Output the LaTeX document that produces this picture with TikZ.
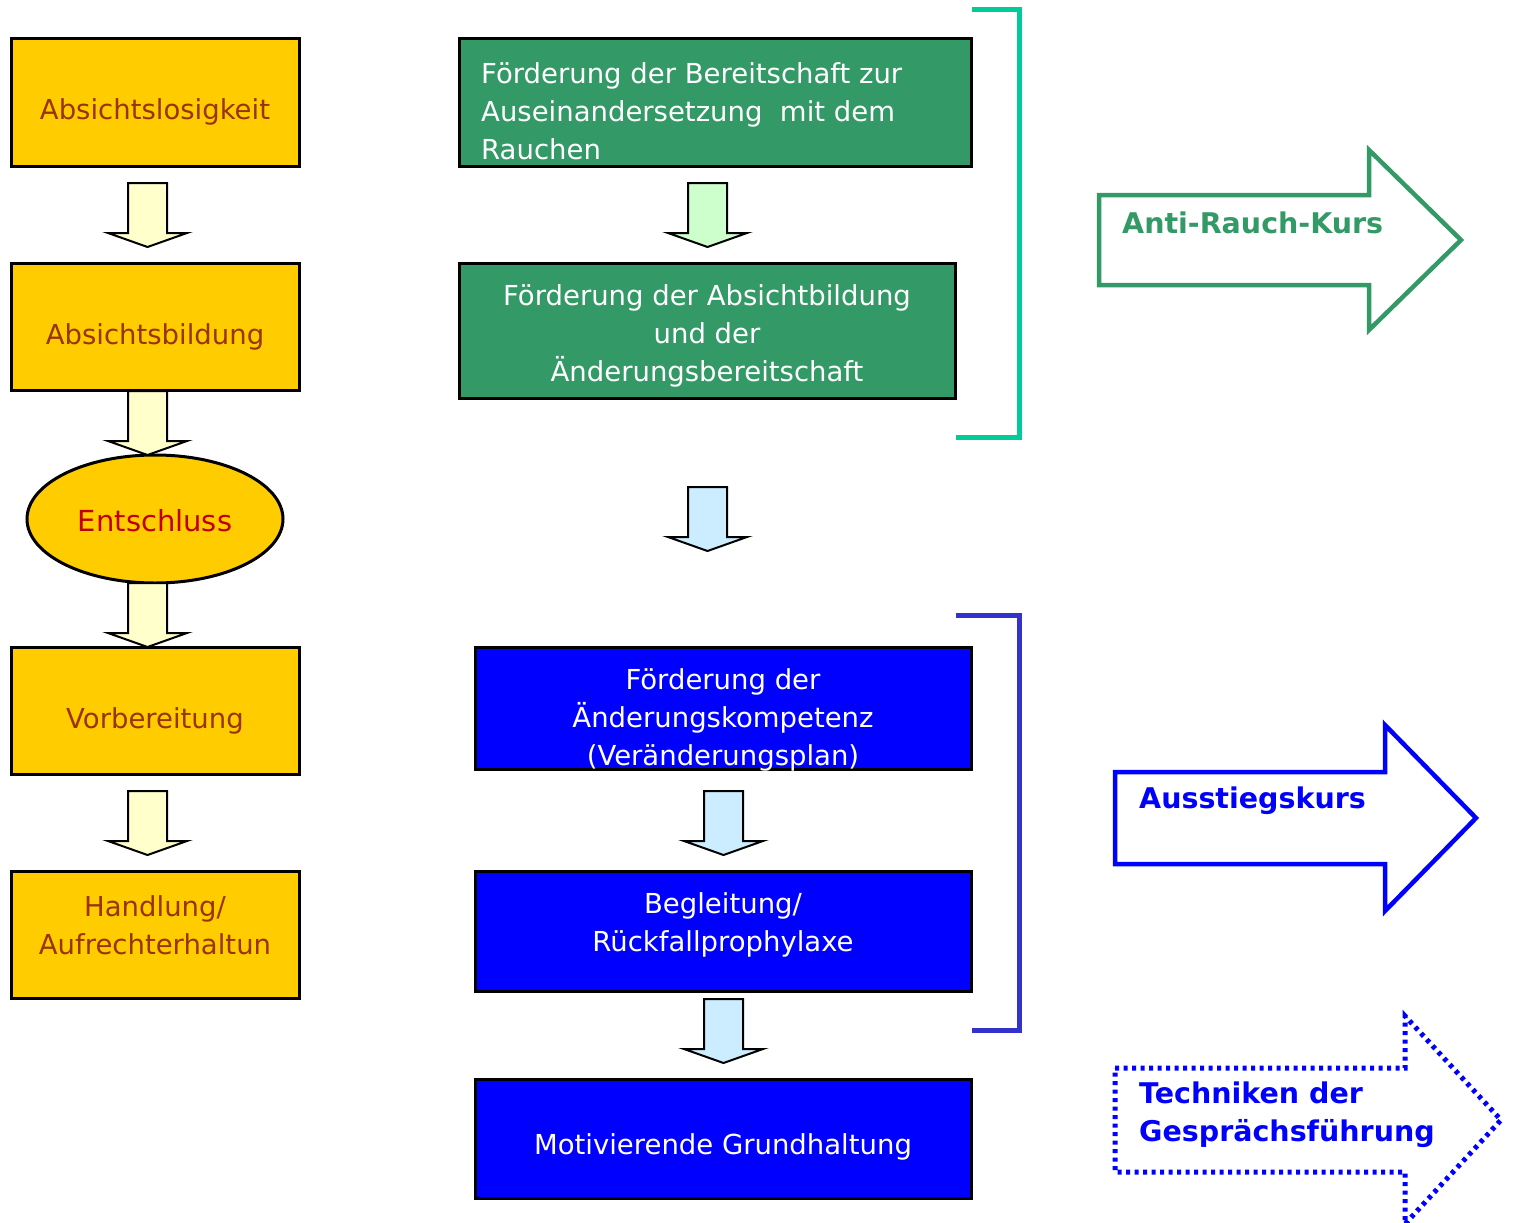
\documentclass[tikz,border=0pt]{standalone}
\usepackage{fontspec}
\setmainfont{DejaVu Sans}
\usetikzlibrary{shapes.geometric}
\definecolor{yfill}{HTML}{FFCC00}
\definecolor{ytext}{HTML}{993300}
\definecolor{rtext}{HTML}{C00000}
\definecolor{gfill}{HTML}{339966}
\definecolor{gbrack}{HTML}{00CC99}
\definecolor{bbrack}{HTML}{3333CC}
\definecolor{bfill}{HTML}{0000FF}
\definecolor{ay}{HTML}{FFFFCC}
\definecolor{ag}{HTML}{CCFFCC}
\definecolor{ab}{HTML}{CCECFF}
\tikzset{
  base/.style={draw=black, line width=3, inner sep=0pt},
  ybox/.style={base, rectangle, fill=yfill, minimum width=288, minimum height=127},
  gbox/.style={base, rectangle, fill=gfill},
  bbox/.style={base, rectangle, fill=bfill},
  txt/.style={inner sep=0pt, font=\fontsize{27.5}{38}\selectfont, align=center},
  ytxt/.style={txt, text=ytext},
  wtxt/.style={txt, text=white},
  btxt/.style={inner sep=0pt, font=\fontsize{28.5}{38}\selectfont\bfseries, align=left, anchor=west},
  pics/darrow/.style={code={
    \draw[line width=2, fill=#1, line join=miter]
      (-19.5,0) -- (19.5,0) -- (19.5,50) -- (39.5,50) -- (0,64) -- (-39.5,50) -- (-19.5,50) -- cycle;}}
}
\begin{document}
\begin{tikzpicture}[x=1pt,y=-1pt]
\clip (0,0) rectangle (1513,1223);
\fill[white] (0,0) rectangle (1513,1223);

% left column
\node[ybox] (y1) at (155,102.5) {};
\node[ytxt] (y1t) at ([yshift=-9]y1.center) {Absichtslosigkeit};
\node[ybox] (y2) at (155,326.5) {};
\node[ytxt] (y2t) at ([yshift=-10]y2.center) {Absichtsbildung};
\node[base, ellipse, fill=yfill, minimum width=256, minimum height=128] (ent) at (155,519) {};
\node[txt, text=rtext, font=\fontsize{29}{38}\selectfont] (entt) at ([yshift=-2]ent.center) {Entschluss};
\node[ybox] (y3) at (155,710.5) {};
\node[ytxt] (y3t) at ([yshift=-10]y3.center) {Vorbereitung};
\node[ybox] (y4) at (155,934.5) {};
\node[ytxt] (y4t) at ([yshift=9]y4.center) {Handlung/\\Aufrechterhaltun};

\pic at (147.5,183) {darrow=ay};
\pic at (147.5,391) {darrow=ay};
\pic at (147.5,583) {darrow=ay};
\pic at (147.5,791) {darrow=ay};

% middle column
\node[gbox, minimum width=512, minimum height=127] (g1) at (715,102.5) {};
\node[wtxt, align=left, anchor=west] (g1t) at (481,111) {Förderung der Bereitschaft zur\\Auseinandersetzung\ \ mit dem\\Rauchen};
\node[gbox, minimum width=496, minimum height=135] (g2) at (707,330.5) {};
\node[wtxt] (g2t) at ([yshift=-5]g2.center) {Förderung der Absichtbildung\\und der\\Änderungsbereitschaft};
\node[bbox, minimum width=496, minimum height=122] (b1) at (723,708) {};
\node[wtxt] (b1t) at ([yshift=-12]b1.center) {Förderung der\\Änderungskompetenz\\(Veränderungsplan)};
\node[bbox, minimum width=496, minimum height=120] (b2) at (723,931) {};
\node[wtxt] (b2t) at ([yshift=6]b2.center) {Begleitung/\\Rückfallprophylaxe};
\node[bbox, minimum width=496, minimum height=119] (b3) at (723,1138.5) {};
\node[wtxt] (b3t) at ([yshift=-8]b3.center) {Motivierende Grundhaltung};

\pic at (707.5,183) {darrow=ag};
\pic at (707.5,487) {darrow=ab};
\pic at (723.5,791) {darrow=ab};
\pic at (723.5,999) {darrow=ab};

% brackets
\draw[gbrack, line width=5, line join=miter] (956,437.5) -- (1019,437.5) -- (1019,9.5) -- (972,9.5);
\draw[bbrack, line width=5, line join=miter] (956,615) -- (1019,615) -- (1019,1030) -- (972,1030);

% right outline arrows
\draw[gfill, line width=4.5, line join=miter] (1099,195) -- (1369,195) -- (1369,150) -- (1461,240) -- (1369,330) -- (1369,285) -- (1099,285) -- cycle;
\node[btxt, text=gfill] (k1) at (1122,223) {Anti-Rauch-Kurs};

\draw[bfill, line width=4.5, line join=miter] (1115,772) -- (1385,772) -- (1385,725) -- (1476,818) -- (1385,911) -- (1385,864) -- (1115,864) -- cycle;
\node[btxt, text=bfill] (k2) at (1139,801) {Ausstiegskurs};

\draw[bfill, line width=5, dash pattern=on 4 off 4.5] (1115,1068) -- (1405,1068) -- (1405,1016) -- (1501,1120) -- (1405,1224) -- (1405,1172) -- (1115,1172) -- cycle;
\node[btxt, text=bfill] (k3) at (1139,1115) {Techniken der\\Gesprächsführung};
\end{tikzpicture}
\end{document}
